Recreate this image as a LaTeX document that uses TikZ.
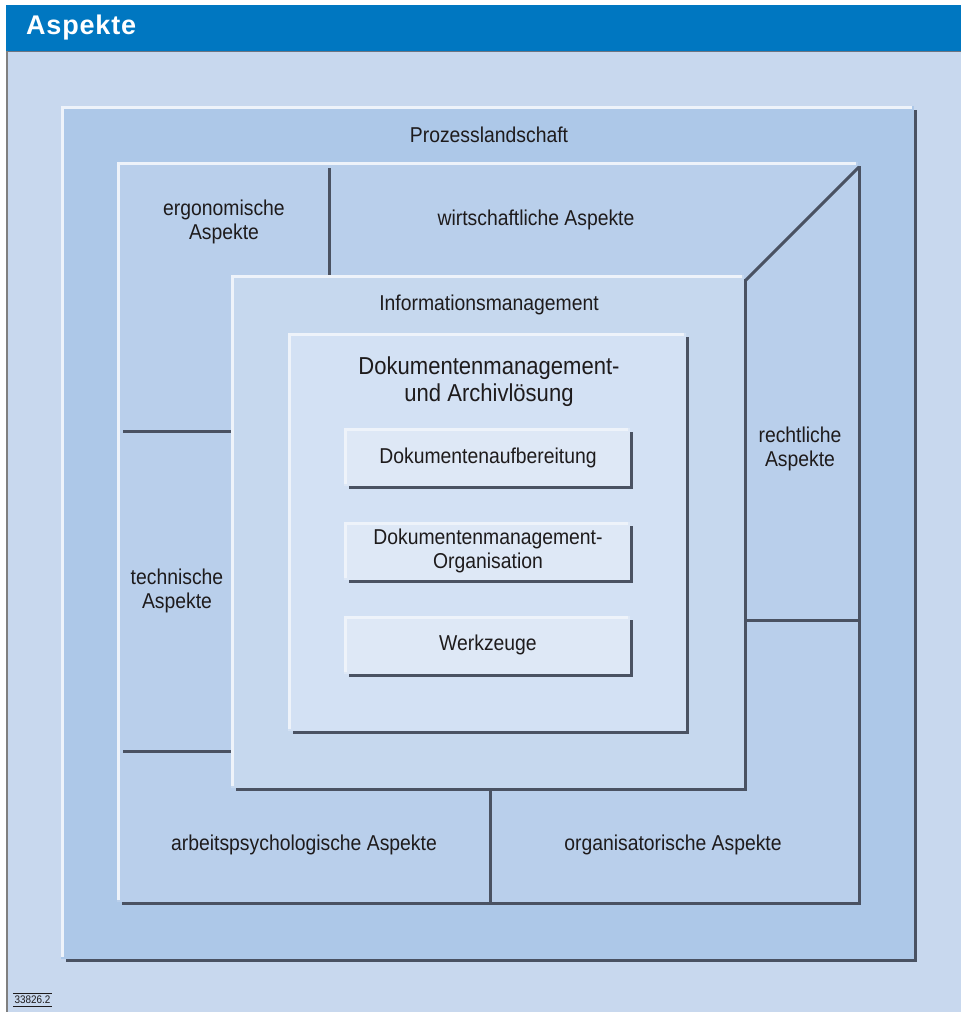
\documentclass[tikz,border=0pt]{standalone}
\usepackage{fontspec}
\setmainfont{Liberation Sans}[FakeStretch=0.9]
\newfontfamily\hdrfont{Liberation Sans}[LetterSpace=3]
\definecolor{hdrblue}{HTML}{0077C1}
\definecolor{bgblue}{HTML}{C8D8EE}
\definecolor{lvone}{HTML}{ADC8E8}
\definecolor{lvtwo}{HTML}{B9CFEB}
\definecolor{lvthree}{HTML}{C6D8EE}
\definecolor{lvfour}{HTML}{D3E1F4}
\definecolor{lvfive}{HTML}{DEE8F6}
\definecolor{hi}{HTML}{EEF3FA}
\definecolor{dk}{HTML}{4A5262}
\definecolor{txt}{HTML}{1E1B1C}
\newcommand{\shbox}[5]{%
  \fill[#5] (#1,#2) rectangle (#3,#4);
  \fill[hi] (#1,#2) rectangle (#3-2,#2+3);
  \fill[hi] (#1,#2) rectangle (#1+3,#4-2);
  \fill[dk] (#3,#2+4) rectangle (#3+3,#4+3);
  \fill[dk] (#1+5,#4) rectangle (#3+3,#4+3);
}
\tikzset{
  lbl/.style={text=txt, align=center, inner sep=0pt, font=\fontsize{21.5}{23.5}\selectfont},
  biglbl/.style={text=txt, align=center, inner sep=0pt, font=\fontsize{24.5}{27}\selectfont},
  divider/.style={draw=dk, line width=3pt}
}
\begin{document}
\begin{tikzpicture}[x=1pt,y=-1pt]
\useasboundingbox (0,0) rectangle (961,1012);
\fill[white] (0,0) rectangle (961,1012);
\fill[bgblue] (6,51) rectangle (961,1012);
\fill[hdrblue] (6,5) rectangle (961,51);
\draw[dk!80, line width=1pt] (6,51) -- (961,51);
\draw[gray, line width=1.5pt] (6.75,51) -- (6.75,1012);
\node[anchor=west, text=white, inner sep=0pt, font=\hdrfont\bfseries\fontsize{27}{30}\selectfont] (title) at (26,28) {Aspekte};
% level 1
\shbox{61}{106}{914}{959}{lvone}
% level 2
\shbox{117}{162}{858}{902}{lvtwo}
\coordinate (dgtop) at (859,167);
\coordinate (dgbot) at (746,280);
\draw[divider] (dgtop) -- (dgbot);
\coordinate (vtA) at (329,168);
\coordinate (vtB) at (329,280);
\draw[divider] (vtA) -- (vtB);
\coordinate (hlA) at (123,431);
\coordinate (hlB) at (232,431);
\draw[divider] (hlA) -- (hlB);
\coordinate (hmA) at (123,751);
\coordinate (hmB) at (232,751);
\draw[divider] (hmA) -- (hmB);
\coordinate (vbA) at (490.5,790);
\coordinate (vbB) at (490.5,902);
\draw[divider] (vbA) -- (vbB);
\coordinate (hrA) at (746,620);
\coordinate (hrB) at (858,620);
\draw[divider] (hrA) -- (hrB);
% level 3
\shbox{231}{275}{744}{788}{lvthree}
% level 4
\shbox{288}{333}{686}{731}{lvfour}
% inner boxes
\shbox{344}{428}{630}{486}{lvfive}
\shbox{344}{522}{630}{580}{lvfive}
\shbox{344}{616}{630}{674}{lvfive}
% labels
\node[lbl] (prozess) at (489,135) {Prozesslandschaft};
\node[lbl] (ergo) at (224,222) {ergonomische\\Aspekte};
\node[lbl] (wirt) at (536,220) {wirtschaftliche Aspekte};
\node[lbl] (info) at (489,305) {Informationsmanagement};
\node[biglbl] (dms) at (489,382) {Dokumentenmanagement-\\und Archivlösung};
\node[lbl] (recht) at (800,449) {rechtliche\\Aspekte};
\node[lbl] (tech) at (177,591) {technische\\Aspekte};
\node[lbl] (aufb) at (488,458) {Dokumentenaufbereitung};
\node[lbl] (orga) at (488,551) {Dokumentenmanagement-\\Organisation};
\node[lbl] (werk) at (488,645) {Werkzeuge};
\node[lbl] (arbeit) at (304,845) {arbeitspsychologische Aspekte};
\node[lbl] (organ) at (673,845) {organisatorische Aspekte};
\node[text=txt, inner sep=1.2pt, text height=8pt, text depth=2pt, font=\fontsize{11}{12}\selectfont] (code) at (32.5,1000) {33826.2};
\draw[txt, line width=0.8pt] (code.north west) -- (code.north east);
\draw[txt, line width=0.8pt] (code.south west) -- (code.south east);
\end{tikzpicture}
\end{document}
